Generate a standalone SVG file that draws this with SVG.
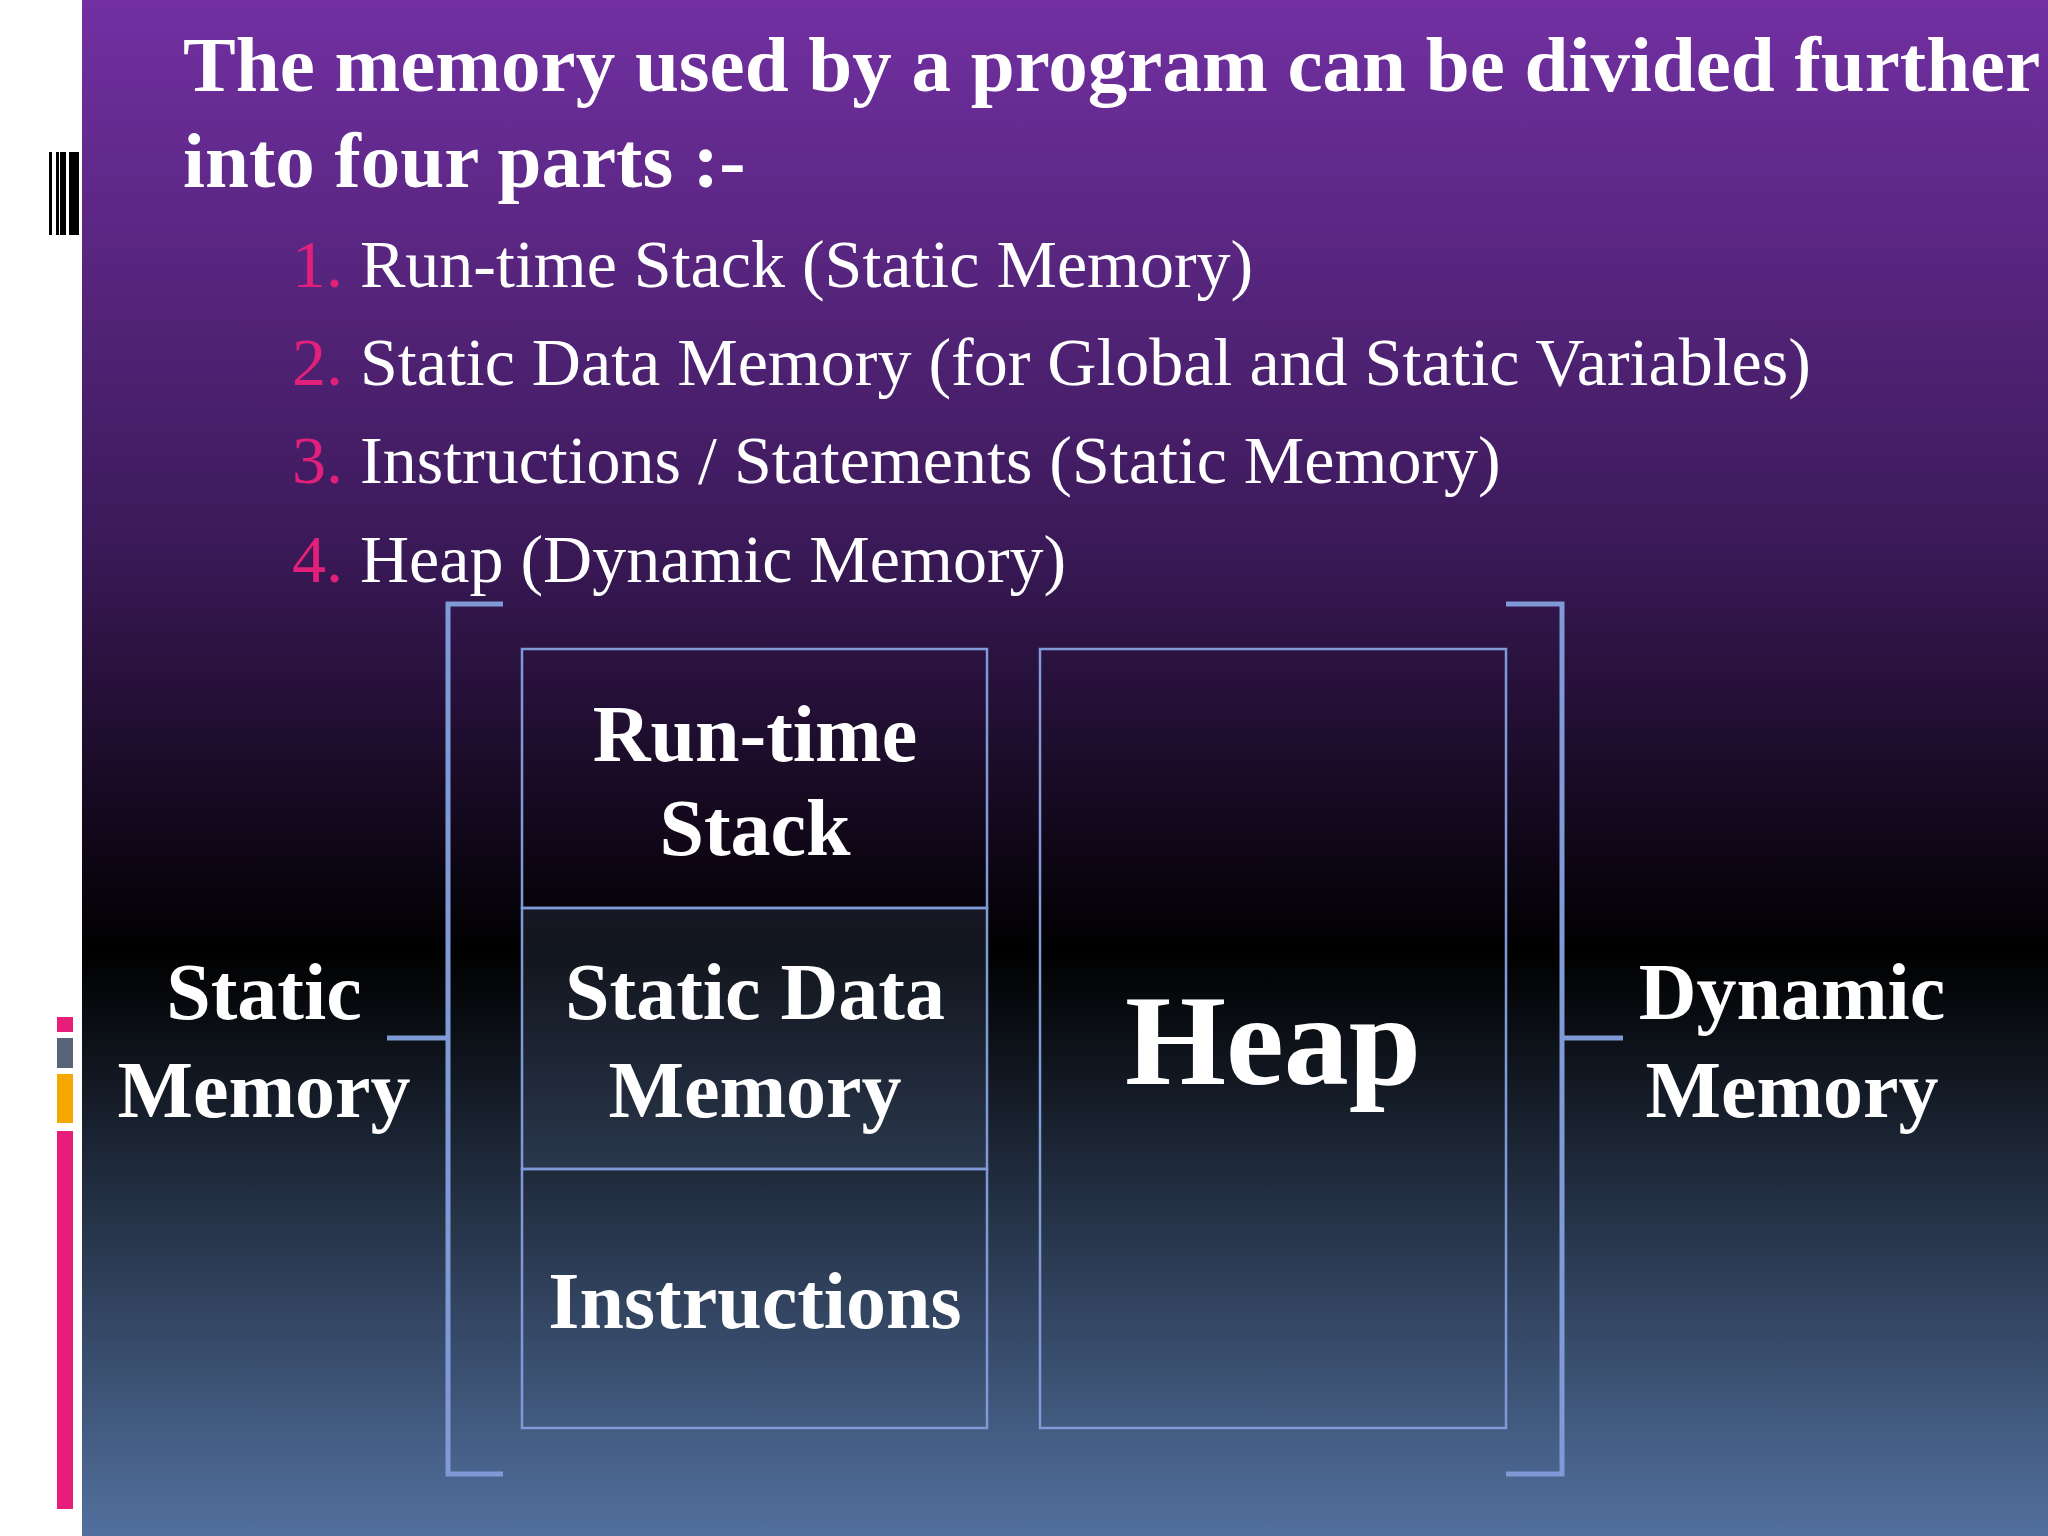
<svg xmlns="http://www.w3.org/2000/svg" width="2048" height="1536" viewBox="0 0 2048 1536">
<defs>
<linearGradient id="bg" x1="0" y1="0" x2="0" y2="1">
<stop offset="0" stop-color="#7230a2"/>
<stop offset="0.35" stop-color="#3c1a5a"/>
<stop offset="0.62" stop-color="#000000"/>
<stop offset="1" stop-color="#52709e"/>
</linearGradient>
<style>
.t{font-family:"Liberation Serif",serif;fill:#fff}
.b{font-weight:bold}
.n{fill:#e0207a}
.ln{stroke:#7f9ad6;stroke-width:5;fill:none}
.box{stroke:#7f9ad6;stroke-width:2.5;fill:none}
.lbl{font-family:"Liberation Serif",serif;font-weight:bold;fill:#fff;font-size:80px;text-anchor:middle}
</style>
</defs>
<rect width="2048" height="1536" fill="#fff"/>
<rect x="82" y="0" width="1966" height="1536" fill="url(#bg)"/>
<g id="barcode" fill="#000">
<rect x="49" y="152" width="3" height="83"/><rect x="56" y="152" width="3" height="83"/><rect x="60" y="152" width="6" height="83"/><rect x="69" y="152" width="10" height="83"/>
</g>
<g id="sidebars">
<rect x="57" y="1017" width="16" height="15" fill="#e91e7a"/>
<rect x="57" y="1038" width="16" height="30" fill="#5a6478"/>
<rect x="57" y="1074" width="16" height="49" fill="#f5a800"/>
<rect x="57" y="1131" width="16" height="378" fill="#e91e7a"/>
</g>
<g id="title" class="t b" font-size="79">
<text x="183" y="91">The memory used by a program can be divided further</text>
<text x="183" y="187">into four parts :-</text>
</g>
<g id="list" class="t" font-size="68">
<text x="292" y="287"><tspan class="n">1.</tspan> Run-time Stack (Static Memory)</text>
<text x="292" y="385"><tspan class="n">2.</tspan> Static Data Memory (for Global and Static Variables)</text>
<text x="292" y="483"><tspan class="n">3.</tspan> Instructions / Statements (Static Memory)</text>
<text x="292" y="582"><tspan class="n">4.</tspan> Heap (Dynamic Memory)</text>
</g>
<g id="connectors">
<path class="ln" d="M503,604 H448 V1474 H503"/>
<path class="ln" d="M1506,604 H1562 V1474 H1506"/>
<path class="ln" d="M387,1038 H448"/>
<path class="ln" d="M1562,1038 H1623"/>
</g>
<g id="stack"><rect class="box" x="522" y="649" width="465" height="259"/><text class="lbl" x="755" y="761">Run-time</text><text class="lbl" x="755" y="855">Stack</text></g>
<g id="static-data"><rect class="box" x="522" y="908" width="465" height="261" style="fill:rgba(90,110,150,0.2)"/><text class="lbl" x="755" y="1019">Static Data</text><text class="lbl" x="755" y="1117">Memory</text></g>
<g id="instructions"><rect class="box" x="522" y="1169" width="465" height="259"/><text class="lbl" x="755" y="1328">Instructions</text></g>
<g id="heap"><rect class="box" x="1040" y="649" width="466" height="779"/><text class="lbl" x="1273" y="1084" style="font-size:130px">Heap</text></g>
<g id="static-memory"><text class="lbl" x="264" y="1019">Static</text><text class="lbl" x="264" y="1117">Memory</text></g>
<g id="dynamic-memory"><text class="lbl" x="1792" y="1019">Dynamic</text><text class="lbl" x="1792" y="1117">Memory</text></g>
</svg>
